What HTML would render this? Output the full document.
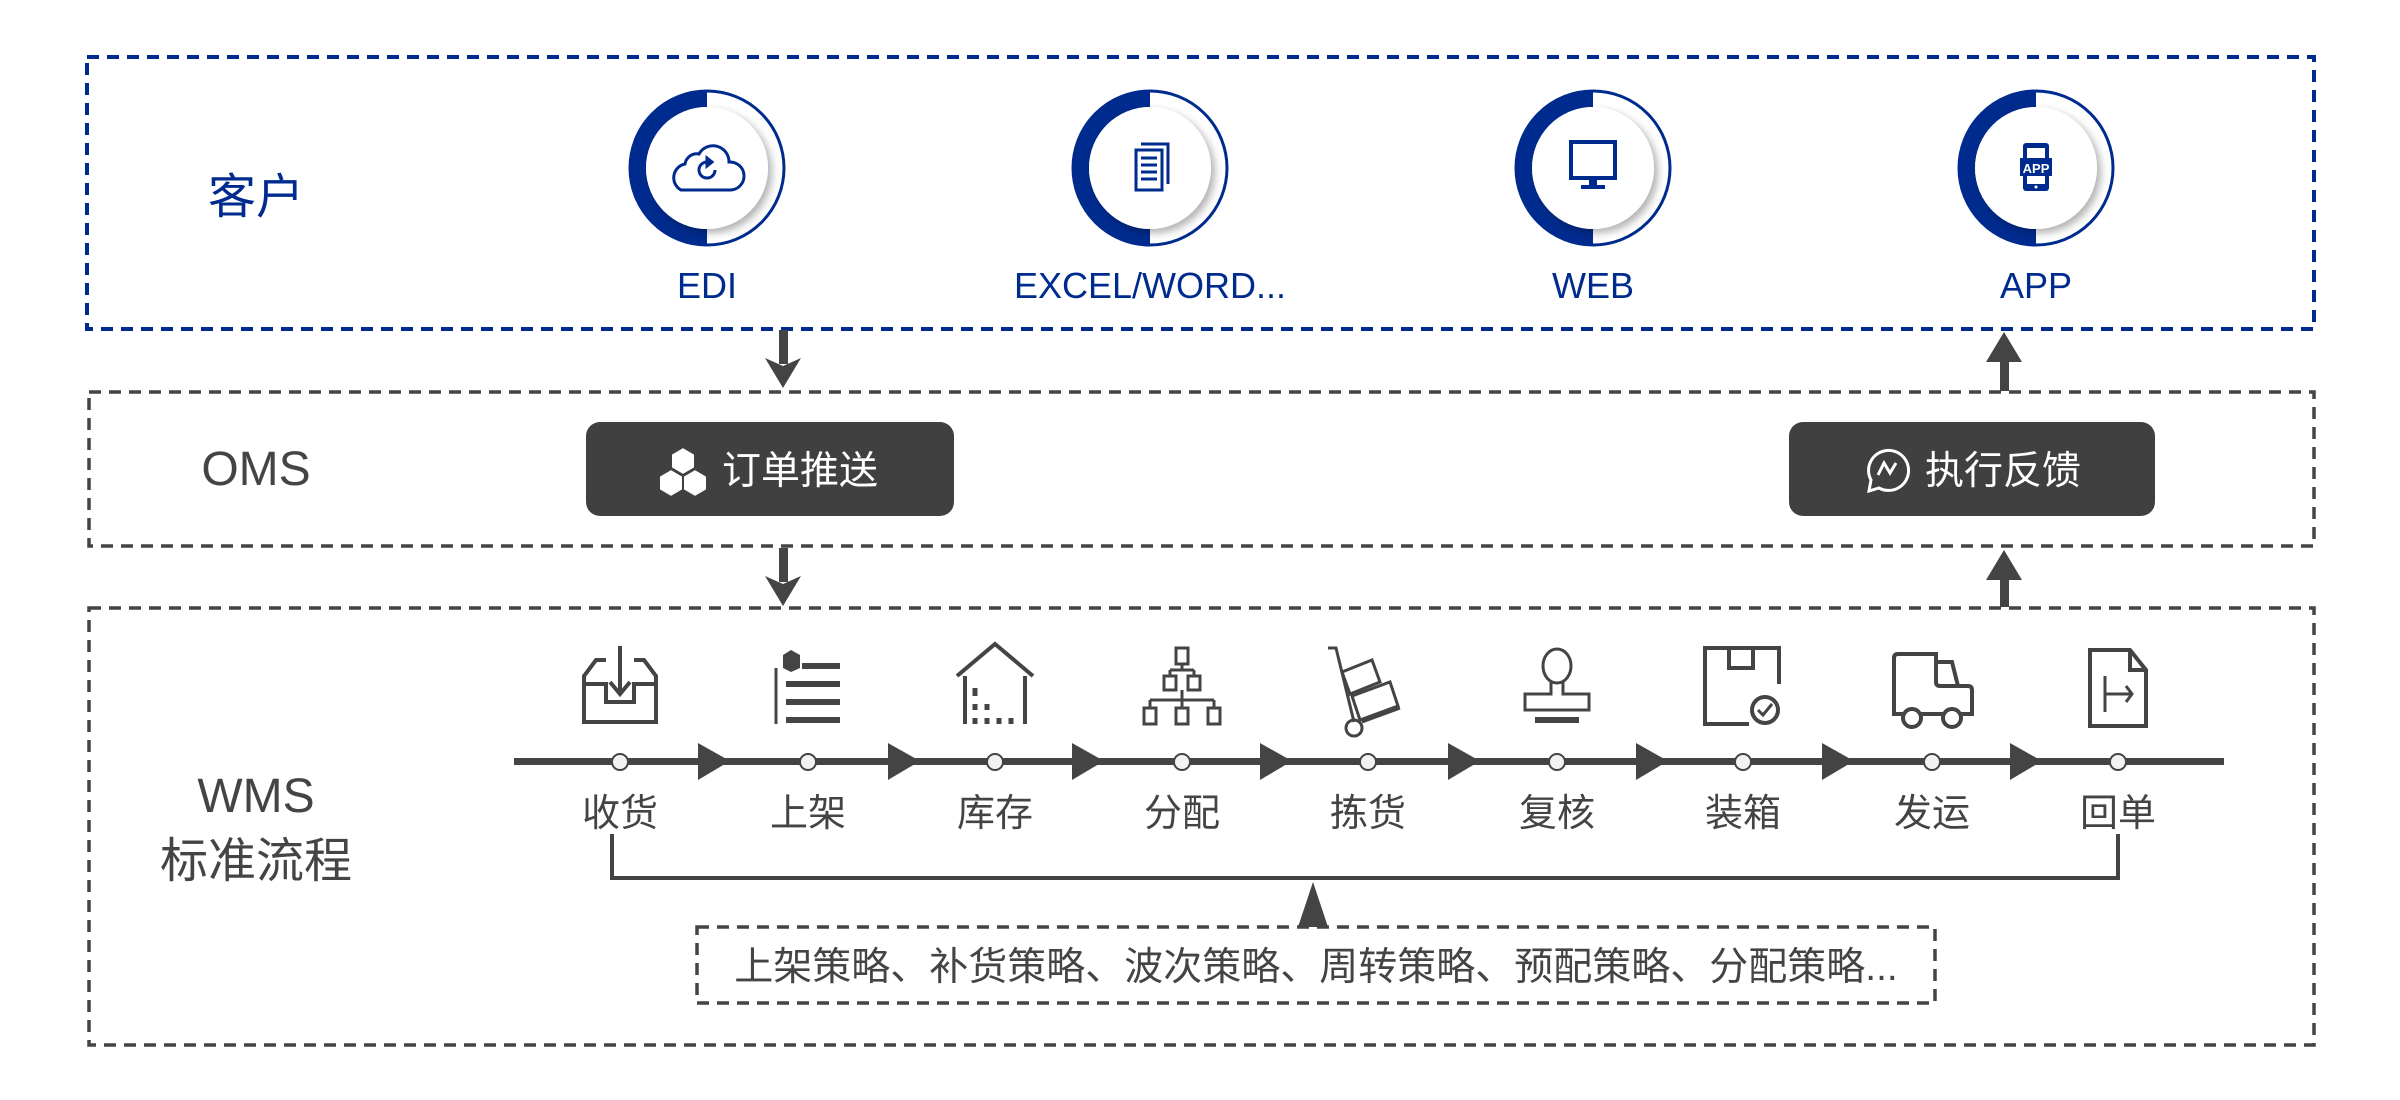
<!DOCTYPE html>
<html><head><meta charset="utf-8"><style>
html,body{margin:0;padding:0;background:#fff;}
svg{display:block;}
text{font-family:"Liberation Sans","Noto Sans CJK SC",sans-serif;}
</style></head><body>
<svg width="2400" height="1100" viewBox="0 0 2400 1100" xmlns="http://www.w3.org/2000/svg">
<defs>
<filter id="sh" x="-30%" y="-30%" width="160%" height="160%"><feDropShadow dx="4" dy="4" stdDeviation="4" flood-color="#000" flood-opacity="0.3"/></filter>
<g id="ring">
  <circle r="77" fill="#fff" stroke="#002b8e" stroke-width="3"/>
  <path d="M0,-78 A78,78 0 0 0 0,78 L0,61 A61,61 0 0 1 0,-61 Z" fill="#002b8e"/>
  <circle r="61" fill="#fff" filter="url(#sh)"/>
</g>
</defs>

<rect x="87" y="57" width="2227" height="272" fill="none" stroke="#002b8e" stroke-width="4" stroke-dasharray="12,8"/>
<rect x="89" y="392" width="2225" height="154" fill="none" stroke="#444" stroke-width="3.5" stroke-dasharray="12,8"/>
<rect x="89" y="608" width="2225" height="437" fill="none" stroke="#444" stroke-width="3.5" stroke-dasharray="12,8"/>

<text x="256" y="213" font-size="48" fill="#002b8e" text-anchor="middle">客户</text>
<text x="256" y="485" font-size="48" fill="#444" text-anchor="middle">OMS</text>
<text x="256" y="812" font-size="48" fill="#444" text-anchor="middle">WMS</text>
<text x="256" y="877" font-size="48" fill="#444" text-anchor="middle">标准流程</text>

<use href="#ring" x="707" y="168"/>
<use href="#ring" x="1150" y="168"/>
<use href="#ring" x="1593" y="168"/>
<use href="#ring" x="2036" y="168"/>
<g transform="translate(707,168)" fill="none" stroke="#002b8e" stroke-width="3">
  <path d="M-26,22 A14,14 0 0 1 -22,-4 A12,12 0 0 1 -8,-14 A16,16 0 0 1 22,-6 A14,14 0 0 1 24,22 Z"/>
  <path d="M8,2 A8,8 0 1 1 0,-6"/><path d="M0,-10 L5,-6 L0,-2 Z" fill="#002b8e"/>
</g>
<g transform="translate(1150,168)" fill="none" stroke="#002b8e" stroke-width="3">
  <rect x="-14" y="-18" width="26" height="40"/><path d="M-9,-24 H18 V16"/>
  <path d="M-9,-10 H7 M-9,-3 H7 M-9,4 H7 M-9,11 H7"/>
</g>
<g transform="translate(1593,168)">
  <rect x="-22" y="-26" width="44" height="36" fill="none" stroke="#002b8e" stroke-width="4"/>
  <rect x="-4" y="10" width="8" height="8" fill="#002b8e"/><rect x="-12" y="17" width="24" height="4" fill="#002b8e"/>
</g>
<g transform="translate(2036,168)">
  <rect x="-13" y="-25" width="26" height="48" rx="3" fill="#002b8e"/>
  <rect x="-9" y="-20" width="18" height="36" fill="#fff"/>
  <rect x="-16" y="-10" width="32" height="18" fill="#002b8e"/>
  <text x="0" y="5" font-size="13" font-weight="bold" fill="#fff" text-anchor="middle">APP</text>
  <circle cx="0" cy="19" r="1.5" fill="#fff"/>
</g>

<g font-size="36" fill="#002b8e" text-anchor="middle">
<text x="707" y="298">EDI</text>
<text x="1150" y="298">EXCEL/WORD...</text>
<text x="1593" y="298">WEB</text>
<text x="2036" y="298">APP</text>
</g>

<g fill="#444">
  <rect x="779" y="330" width="9" height="34"/><path d="M765,358 L783,388 L801,358 L783,366 Z"/>
  <rect x="779" y="548" width="9" height="34"/><path d="M765,576 L783,606 L801,576 L783,584 Z"/>
  <rect x="2000" y="357" width="9" height="34"/><path d="M1986,362 L2004,332 L2022,362 Z"/>
  <rect x="2000" y="575" width="9" height="32"/><path d="M1986,580 L2004,550 L2022,580 Z"/>
</g>

<rect x="586" y="422" width="368" height="94" rx="14" fill="#404040"/>
<rect x="1789" y="422" width="366" height="94" rx="14" fill="#404040"/>
<g transform="translate(683,470)" fill="#fff" stroke="#404040" stroke-width="2">
  <path d="M0,-23 L12,-16 L12,-2 L0,5 L-12,-2 L-12,-16 Z"/>
  <path d="M-12,-1 L0,6 L0,20 L-12,27 L-24,20 L-24,6 Z"/>
  <path d="M12,-1 L24,6 L24,20 L12,27 L0,20 L0,6 Z"/>
</g>
<text x="722" y="484" font-size="39" fill="#fff">订单推送</text>
<g transform="translate(1887,469)" fill="none" stroke="#fff" stroke-width="3">
  <path d="M-8,19 A20,20 0 1 0 -16,11 L-18,22 Z"/>
  <path d="M-9,6 L-3,-6 L3,4 L9,-6"/>
</g>
<text x="1925" y="484" font-size="39" fill="#fff">执行反馈</text>

<rect x="514" y="758" width="1710" height="7" fill="#444"/>
<g fill="#444">
  <path d="M698,743 L730,761 L698,780 Z"/>
  <path d="M888,743 L920,761 L888,780 Z"/>
  <path d="M1072,743 L1104,761 L1072,780 Z"/>
  <path d="M1260,743 L1292,761 L1260,780 Z"/>
  <path d="M1448,743 L1480,761 L1448,780 Z"/>
  <path d="M1636,743 L1668,761 L1636,780 Z"/>
  <path d="M1822,743 L1854,761 L1822,780 Z"/>
  <path d="M2010,743 L2042,761 L2010,780 Z"/>
</g>
<g fill="#f2f2f2" stroke="#444" stroke-width="2">
  <circle cx="620" cy="762" r="8"/><circle cx="808" cy="762" r="8"/><circle cx="995" cy="762" r="8"/>
  <circle cx="1182" cy="762" r="8"/><circle cx="1368" cy="762" r="8"/><circle cx="1557" cy="762" r="8"/>
  <circle cx="1743" cy="762" r="8"/><circle cx="1932" cy="762" r="8"/><circle cx="2118" cy="762" r="8"/>
</g>
<g font-size="38" fill="#444" text-anchor="middle">
  <text x="620" y="826">收货</text><text x="808" y="826">上架</text><text x="995" y="826">库存</text>
  <text x="1182" y="826">分配</text><text x="1368" y="826">拣货</text><text x="1557" y="826">复核</text>
  <text x="1743" y="826">装箱</text><text x="1932" y="826">发运</text><text x="2118" y="826">回单</text>
</g>

<g fill="none" stroke="#444" stroke-width="4">
  <g transform="translate(620,690)">
    <path d="M-14,-30 H-24 L-36,-14 V32 H36 V-14 L24,-30 H14"/>
    <path d="M-36,-6 H-14 V12 H14 V-6 H36"/>
    <path d="M0,-44 V4 M-10,-8 L0,4 L10,-8"/>
  </g>
  <g transform="translate(808,690)">
    <path d="M-32,-22 V34" stroke-width="3"/>
    <path d="M-6,-24 H32 M-22,-6 H32 M-22,12 H32 M-22,30 H32" stroke-width="6"/>
    <path d="M-17,-40 L-8,-35 V-22 L-17,-18 L-25,-22 V-35 Z" fill="#444" stroke="none"/>
  </g>
  <g transform="translate(995,690)">
    <path d="M-30,34 V-14 M30,34 V-14 M-38,-14 L0,-46 L38,-14"/>
    <path d="M-20,-2 V6 M-20,14 V20 M-8,14 V20 M-20,28 V34 M-8,28 V34 M4,28 V34 M16,28 V34" stroke-width="5"/>
  </g>
  <g transform="translate(1182,690)" stroke-width="3">
    <rect x="-6" y="-42" width="12" height="16"/><rect x="-18" y="-14" width="12" height="14"/><rect x="6" y="-14" width="12" height="14"/>
    <rect x="-38" y="18" width="12" height="16"/><rect x="-6" y="18" width="12" height="16"/><rect x="26" y="18" width="12" height="16"/>
    <path d="M0,-26 V-20 M-12,-20 H12 M-12,-20 V-14 M12,-20 V-14 M0,0 V10 M-32,10 H32 M-32,10 V18 M32,10 V18 M0,10 V18"/>
  </g>
  <g transform="translate(1368,690)" stroke-width="3">
    <path d="M-40,-42 H-32 L-14,32"/><circle cx="-14" cy="38" r="8"/>
    <path d="M-26,-18 L4,-30 L12,-8 L-18,4 Z"/><path d="M-16,6 L22,-8 L30,16 L-8,30 Z"/><path d="M-6,32 L32,18"/>
  </g>
  <g transform="translate(1557,690)" stroke-width="3">
    <ellipse cx="0" cy="-24" rx="14" ry="17"/><path d="M-6,-8 V4 H-32 V20 H32 V4 H6 V-8"/>
    <path d="M-22,30 H22" stroke-width="6"/>
  </g>
  <g transform="translate(1743,690)">
    <path d="M6,34 H-38 V-42 H36 V-6"/><path d="M-14,-42 V-22 H10 V-42"/>
    <circle cx="22" cy="20" r="13"/><path d="M15,20 L20,25 L29,14" stroke-width="3"/>
  </g>
  <g transform="translate(1932,690)">
    <path d="M-38,24 V-32 Q-38,-36 -34,-36 H4 V-8 Q4,-4 8,-4 H36 Q40,-4 40,0 V24 Z M4,-28 H20 L26,-4"/>
    <circle cx="-20" cy="28" r="9" fill="#fff"/><circle cx="20" cy="28" r="9" fill="#fff"/>
  </g>
  <g transform="translate(2118,690)">
    <path d="M-28,-40 H12 L28,-20 V36 H-28 Z M12,-40 V-20 H28"/>
    <path d="M-13,-14 V22 M-13,4 H14 M8,-4 L14,4 L8,12" stroke-width="3"/>
  </g>
</g>

<path d="M612,834 V878 H2118 V834" fill="none" stroke="#444" stroke-width="4"/>
<path d="M1298,927 L1313,882 L1328,927 Z" fill="#444"/>
<rect x="697" y="927" width="1238" height="76" fill="none" stroke="#444" stroke-width="3.5" stroke-dasharray="12,8"/>
<text x="1316" y="980" font-size="39" fill="#444" text-anchor="middle">上架策略、补货策略、波次策略、周转策略、预配策略、分配策略...</text>
</svg>
</body></html>
